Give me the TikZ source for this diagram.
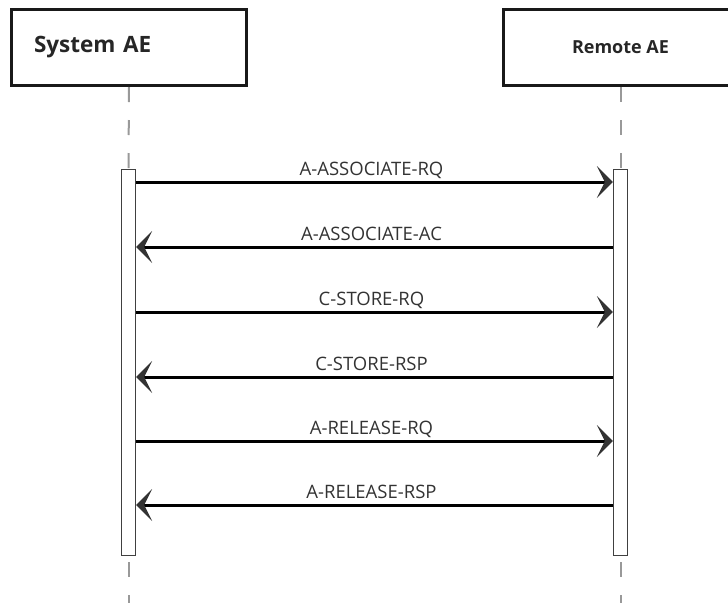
\documentclass[tikz,border=0pt]{standalone}
\usepackage{fontspec}
\setmainfont{Open Sans}
\usetikzlibrary{arrows.meta}

\tikzset{
	lifebox/.style={draw=black!90,line width=3pt,minimum width=235pt,minimum height=76pt,inner sep=0pt,text=black!85},
	actbar/.style={draw=black!75,fill=white,line width=1.3pt,minimum width=14pt,minimum height=386pt,inner sep=0pt},
	lifeline/.style={draw=black!40,line width=2pt,dash pattern=on 15pt off 18pt},
	msg/.style={draw=black,line width=3pt,-{Stealth[length=16pt,width=32pt,inset=8pt,line width=0pt,color=black!80]}},
	msglabel/.style={midway,anchor=base,yshift=7pt,xshift=-3pt,text=black!80,font=\fontsize{18.5}{20}\selectfont}
}

\begin{document}
\begin{tikzpicture}[x=1pt,y=-1pt]

		\clip (0,0) rectangle (728,603);

		%------------------------------------------------------
		\node[lifebox,text width=190pt,align=left,inner xsep=22.5pt,font=\bfseries\fontsize{22.5}{24}\selectfont] (sysbox) at (129,47.5) {System AE};
		\node[lifebox,font=\bfseries\fontsize{18}{19}\selectfont] (rembox) at (620.5,47.5) {Remote AE};
		%------------------------------------------------------


		%------------------------------------------------------
		\node[actbar] (sysbar) at (128.5,362.5) {};
		\node[actbar] (rembar) at (620.5,362.5) {};

		\coordinate (sysfoot) at (128.5,603);
		\coordinate (remfoot) at (620.5,603);

		\draw[lifeline] (sysbox.south) -- (sysbar.north);
		\draw[lifeline] (rembox.south) -- (rembar.north);
		\draw[lifeline,dash phase=27pt] (sysbar.south) -- (sysfoot);
		\draw[lifeline,dash phase=27pt] (rembar.south) -- (remfoot);
		%------------------------------------------------------


		%------------------------------------------------------
		\coordinate (m1) at (0,182);
		\coordinate (m2) at (0,247);
		\coordinate (m3) at (0,312);
		\coordinate (m4) at (0,377);
		\coordinate (m5) at (0,441);
		\coordinate (m6) at (0,505);

		\draw[msg] (sysbar.east |- m1) -- (rembar.west |- m1) node[msglabel] {A-ASSOCIATE-RQ};
		\draw[msg] (rembar.west |- m2) -- (sysbar.east |- m2) node[msglabel] {A-ASSOCIATE-AC};

		\draw[msg] (sysbar.east |- m3) -- (rembar.west |- m3) node[msglabel] {C-STORE-RQ};
		\draw[msg] (rembar.west |- m4) -- (sysbar.east |- m4) node[msglabel] {C-STORE-RSP};

		\draw[msg] (sysbar.east |- m5) -- (rembar.west |- m5) node[msglabel] {A-RELEASE-RQ};
		\draw[msg] (rembar.west |- m6) -- (sysbar.east |- m6) node[msglabel] {A-RELEASE-RSP};
		%------------------------------------------------------

\end{tikzpicture}
\end{document}
